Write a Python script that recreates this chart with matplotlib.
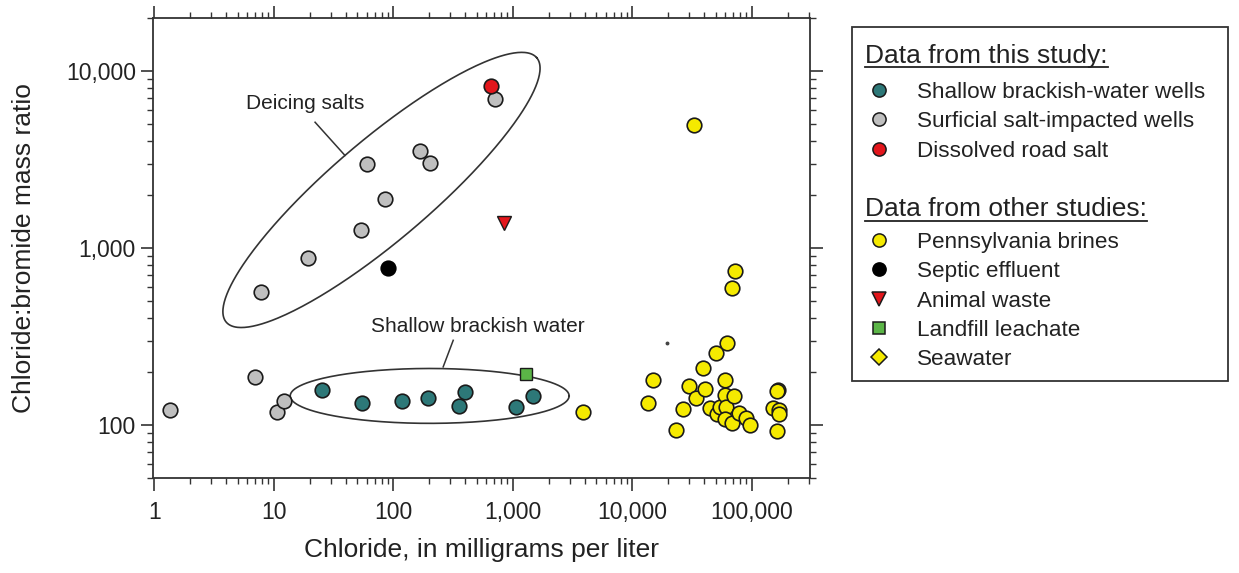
import numpy as np
import matplotlib
matplotlib.use('Agg')
import matplotlib.pyplot as plt
from matplotlib.ticker import LogLocator, FuncFormatter, NullFormatter
from matplotlib.patches import Rectangle

plt.rcParams['font.family'] = ['Liberation Sans', 'DejaVu Sans']

# ---------------- data ----------------
brackish_cl = [25.5, 55, 118, 197, 401, 357, 1060, 1470]
brackish_ratio = [158, 134, 137, 143, 154, 128, 126, 146]

surficial_cl = [1.36, 7.0, 10.7, 12.2, 7.9, 19.5, 54, 85, 60, 169, 203, 715]
surficial_ratio = [122, 187, 118, 137, 565, 878, 1260, 1900, 2990, 3510, 3040, 6960]

road_salt_cl = [654]
road_salt_ratio = [8200]

brine_cl = [3850, 13600, 15000, 23300, 26500, 29700, 33100, 34200, 38900, 40400,
            44800, 50300, 51500, 54300, 60100, 60100, 61000, 60100, 61800, 68000,
            68400, 71100, 72500, 78800, 89600, 96800, 151600, 161900, 166000, 164000,
            170200, 170200]
brine_ratio = [118, 133, 179, 94, 123, 166, 4970, 142, 210, 159,
               124, 256, 116, 126, 179, 148, 127, 108, 289, 598,
               102, 146, 742, 117, 110, 100, 124, 92, 158, 155,
               122, 116]

septic_cl = [91]
septic_ratio = [766]
animal_cl = [846]
animal_ratio = [1384]
landfill_cl = [1290]
landfill_ratio = [193]
seawater_cl = [19400]
seawater_ratio = [290]

x_ticks = [1, 10, 100, 1000, 10000, 100000]
y_ticks = [100, 1000, 10000]

# ---------------- styles ----------------
TEAL = '#2d7878'
GREY = '#bfbfbf'
RED = '#e3161c'
YELLOW = '#f5ea00'
GREEN = '#5bb547'
EDGE = '#1a1a1a'
LINE = '#333333'

W, H = 1239, 573
fig = plt.figure(figsize=(W / 100, H / 100), dpi=100)

ax_l, ax_r, ax_t, ax_b = 152.6, 809.9, 17.7, 478.3
ax = fig.add_axes([ax_l / W, (H - ax_b) / H, (ax_r - ax_l) / W, (ax_b - ax_t) / H])
ax.set_xscale('log')
ax.set_yscale('log')
ax.set_xlim(0.97, 3.07e5)
ax.set_ylim(50, 20000)

ms = 10.5
mew = 1.2
ax.plot(surficial_cl, surficial_ratio, 'o', ms=ms, mfc=GREY, mec=EDGE, mew=mew, zorder=3)
ax.plot(road_salt_cl, road_salt_ratio, 'o', ms=ms, mfc=RED, mec=EDGE, mew=mew, zorder=4)
ax.plot(brackish_cl, brackish_ratio, 'o', ms=ms, mfc=TEAL, mec=EDGE, mew=mew, zorder=3)
ax.plot(brine_cl, brine_ratio, 'o', ms=ms, mfc=YELLOW, mec=EDGE, mew=mew, zorder=3)
ax.plot(septic_cl, septic_ratio, 'o', ms=ms, mfc='black', mec='black', mew=mew, zorder=3)
ax.plot(animal_cl, animal_ratio, 'v', ms=10, mfc=RED, mec=EDGE, mew=1.0, zorder=3)
ax.plot(landfill_cl, landfill_ratio, 's', ms=9, mfc=GREEN, mec=EDGE, mew=1.0, zorder=4)
ax.plot(seawater_cl, seawater_ratio, 'o', ms=1.8, mfc='#444444', mec='#444444', zorder=3)

# ---------------- ellipses (defined in log10 space) ----------------
t = np.linspace(0, 2 * np.pi, 400)


def draw_ellipse(center, a_vec, b_vec):
    lx = np.log10(center[0]) + np.cos(t) * a_vec[0] + np.sin(t) * b_vec[0]
    ly = np.log10(center[1]) + np.cos(t) * a_vec[1] + np.sin(t) * b_vec[1]
    ax.plot(10 ** lx, 10 ** ly, color=LINE, lw=1.2, zorder=2)


draw_ellipse((79.8, 2128), (1.299, 0.747), (0.2716, -0.2146))
draw_ellipse((202, 146), (1.167, 0.0), (0.0, 0.155))

ax.text(18.4, 6110, 'Deicing salts', fontsize=15, ha='center', va='baseline', color='#222222')
ax.plot([22.2, 39.5], [5135, 3333], color=LINE, lw=1.1)
ax.text(509, 336, 'Shallow brackish water', fontsize=15, ha='center', va='baseline', color='#222222')
ax.plot([318, 262], [301, 213], color=LINE, lw=1.1)

# ---------------- axes styling ----------------
for s in ax.spines.values():
    s.set_linewidth(1.3)
    s.set_color(LINE)

fmt = FuncFormatter(lambda v, p: f'{int(round(v)):,}')
ax.xaxis.set_major_locator(LogLocator(base=10, numticks=20))
ax.yaxis.set_major_locator(LogLocator(base=10, numticks=20))
ax.xaxis.set_minor_locator(LogLocator(base=10, subs=np.arange(2, 10), numticks=40))
ax.yaxis.set_minor_locator(LogLocator(base=10, subs=np.arange(2, 10), numticks=40))
ax.set_xticks(x_ticks)
ax.set_yticks(y_ticks)
ax.xaxis.set_major_formatter(fmt)
ax.yaxis.set_major_formatter(fmt)
ax.xaxis.set_minor_formatter(NullFormatter())
ax.yaxis.set_minor_formatter(NullFormatter())
ax.tick_params(which='both', direction='out', top=True, right=True,
               labeltop=False, labelright=False, color=LINE, labelcolor='#222222')
ax.tick_params(which='major', length=9, width=1.2, labelsize=16.5)
ax.tick_params(which='minor', length=4.5, width=1.0)
ax.tick_params(axis='x', which='major', pad=7)
ax.tick_params(axis='y', which='major', pad=3)

ax.set_xlabel('Chloride, in milligrams per liter', fontsize=19, color='#222222')
ax.set_ylabel('Chloride:bromide mass ratio', fontsize=19, color='#222222')
ax.xaxis.set_label_coords(0.5, (ax_b - 550) / (ax_b - ax_t))
ax.xaxis.label.set_va('center')
ax.yaxis.set_label_coords((24 - ax_l) / (ax_r - ax_l), 0.5)
ax.yaxis.label.set_va('center')

# ---------------- legend (pixel-coordinate overlay) ----------------
lg = fig.add_axes([0, 0, 1, 1], zorder=5)
lg.set_xlim(0, W)
lg.set_ylim(H, 0)
lg.axis('off')
lg.patch.set_alpha(0)

lg.add_patch(Rectangle((852, 27), 376, 354, fill=False, lw=1.3, ec=LINE))

headers = [('Data from this study:', 62.5), ('Data from other studies:', 216.5)]
entries = [
    ('Shallow brackish-water wells', 90.0, 'o', TEAL, EDGE),
    ('Surficial salt-impacted wells', 119.3, 'o', GREY, EDGE),
    ('Dissolved road salt', 148.6, 'o', RED, EDGE),
    ('Pennsylvania brines', 240.0, 'o', YELLOW, EDGE),
    ('Septic effluent', 269.3, 'o', 'black', 'black'),
    ('Animal waste', 298.6, 'v', RED, EDGE),
    ('Landfill leachate', 327.9, 's', GREEN, EDGE),
    ('Seawater', 357.2, 'D', YELLOW, EDGE),
]
hdr_texts = []
for label, yb in headers:
    hdr_texts.append((lg.text(865, yb, label, fontsize=19, ha='left', va='baseline',
                              color='#222222'), yb))
msize = {'o': 9.5, 'v': 10, 's': 8.5, 'D': 8}
for label, yc, m, fc, ec in entries:
    lg.plot([879], [yc], m, ms=msize[m], mfc=fc, mec=ec, mew=1.1)
    lg.text(917, yc + 8, label, fontsize=16.2, ha='left', va='baseline', color='#222222')

fig.canvas.draw()
r = fig.canvas.get_renderer()
inv = lg.transData.inverted()
for txt, yb in hdr_texts:
    bb = txt.get_window_extent(r)
    x0 = inv.transform((bb.x0, bb.y0))[0]
    x1 = inv.transform((bb.x1, bb.y0))[0]
    lg.plot([x0, x1], [yb + 4.5, yb + 4.5], color='#222222', lw=1.3)

fig.savefig('out.png', dpi=100)
